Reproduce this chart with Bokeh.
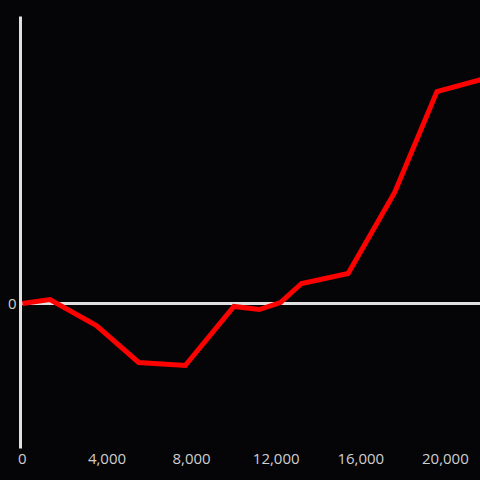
from bokeh.plotting import figure
from bokeh.models import Span, FixedTicker, Range1d, NumeralTickFormatter
from bokeh.embed import file_html
from bokeh.resources import INLINE

x_vals = [0, 1300, 3500, 5500, 7700, 10000, 11200, 12200, 13200, 15400, 17600, 19600, 21700]
y_vals = [0, 4, -22, -59, -62, -3, -6, 1, 20, 30, 111, 212, 224]
x_ticks = [0, 4000, 8000, 12000, 16000, 20000]
y_ticks = [0]

BG = "#050407"
AX = "#e0e0e0"
LBL = "#cfcfcf"

p = figure(width=480, height=480, output_backend="svg", toolbar_location=None,
           x_range=Range1d(-90, 21660), y_range=Range1d(-145, 287),
           background_fill_color=BG, border_fill_color=BG,
           min_border_left=20, min_border_right=0, min_border_top=16, min_border_bottom=32)
p.outline_line_color = None
p.grid.visible = False

p.add_layout(Span(location=0, dimension="width", line_color=AX, line_width=3, level="underlay"))

r = p.line(x_vals, y_vals, line_color="#ff0000", line_width=5, line_join="miter")
r.level = "overlay"

xa = p.xaxis[0]
xa.ticker = FixedTicker(ticks=x_ticks)
xa.formatter = NumeralTickFormatter(format="0,0")
xa.axis_line_color = None
xa.major_tick_line_color = None
xa.minor_tick_line_color = None
xa.major_tick_out = 0
xa.major_label_standoff = 5
xa.major_label_text_color = LBL
xa.major_label_text_font = "Open Sans"
xa.major_label_text_font_size = "15px"

ya = p.yaxis[0]
ya.ticker = FixedTicker(ticks=y_ticks)
ya.axis_line_color = AX
ya.axis_line_width = 3
ya.major_tick_line_color = None
ya.minor_tick_line_color = None
ya.major_tick_out = 0
ya.major_label_standoff = 4
ya.major_label_text_color = LBL
ya.major_label_text_font = "Open Sans"
ya.major_label_text_font_size = "15px"

html = file_html(p, INLINE)
html = html.replace("<body>", "<body style=\"background:%s\">" % BG)
open("out.html", "w").write(html)
